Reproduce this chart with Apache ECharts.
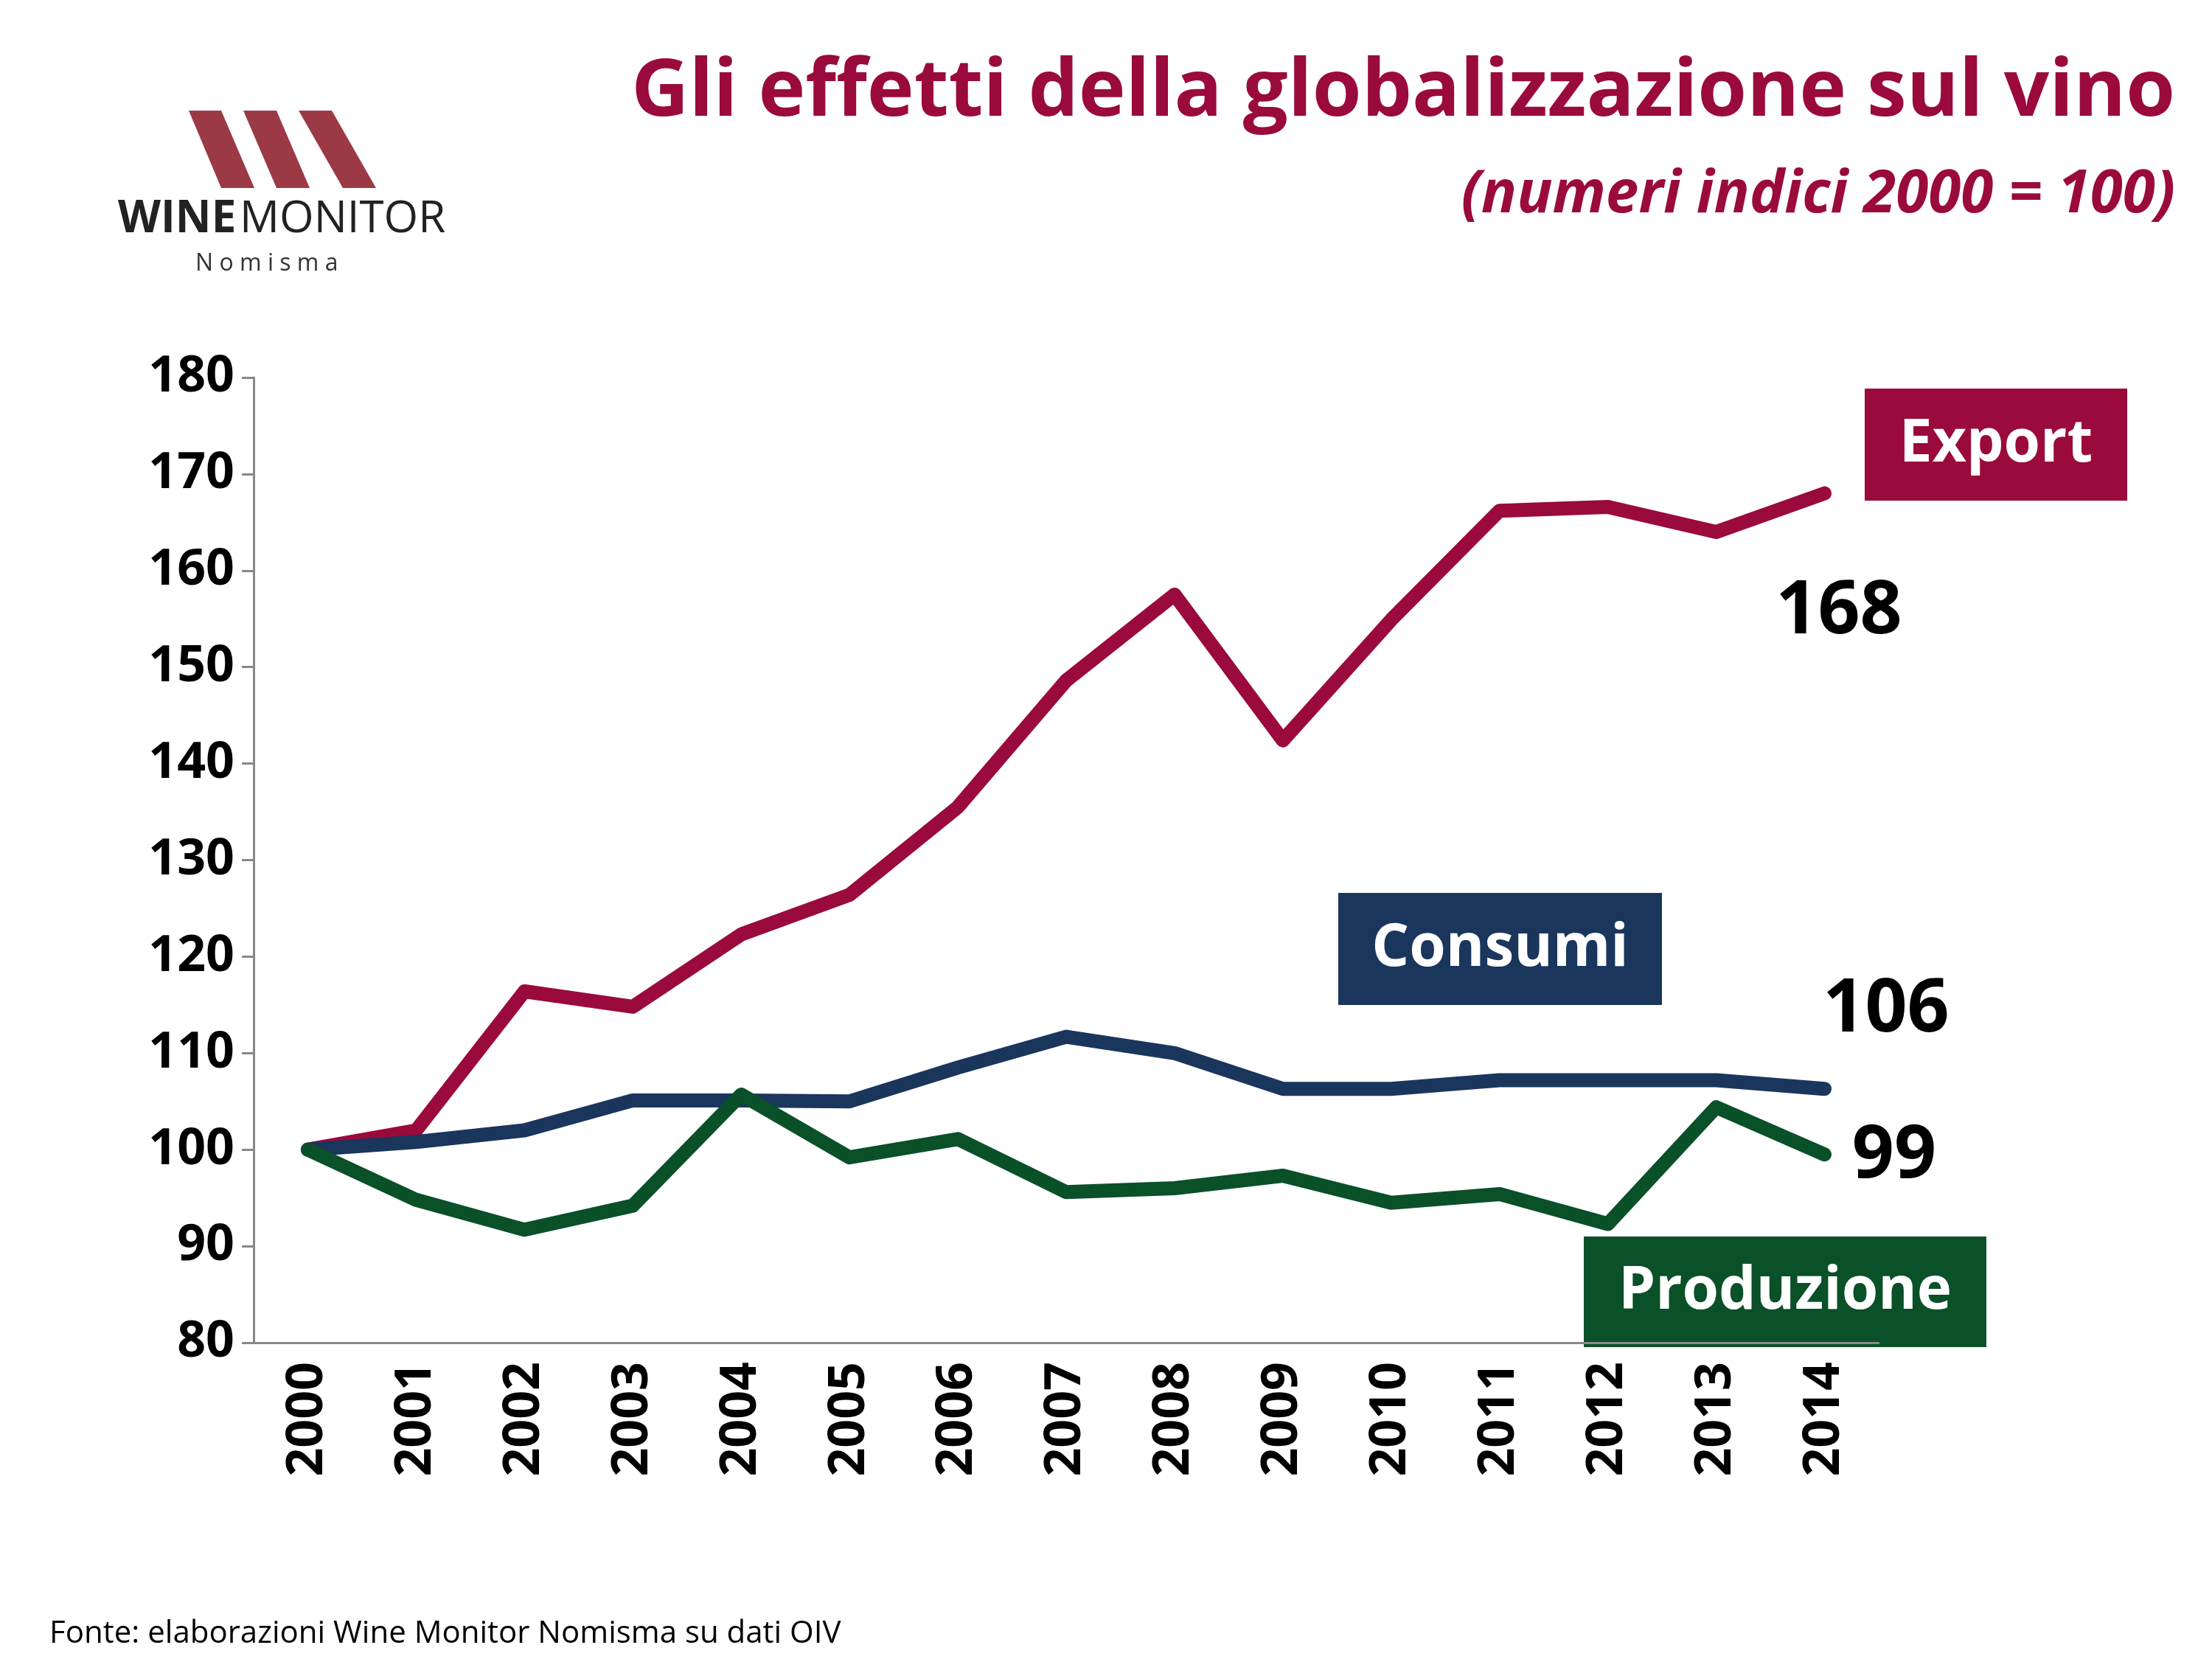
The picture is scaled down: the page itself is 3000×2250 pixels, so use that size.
<!DOCTYPE html>
<html>
<head>
<meta charset="utf-8">
<script src="https://cdn.jsdelivr.net/npm/echarts@6/dist/echarts.min.js"></script>
<style>html,body{margin:0;padding:0;background:#fff}</style>
</head>
<body>
<div id="chart" style="width:3000px;height:2250px"></div>
<script>
const years = ['2000','2001','2002','2003','2004','2005','2006','2007','2008','2009','2010','2011','2012','2013','2014'];
const exportVals = [100, 102, 116.4, 114.8, 122.3, 126.4, 135.5, 148.6, 157.5, 142.4, 154.9, 166.2, 166.6, 164, 168];
const consumiVals = [100, 100.8, 102, 105.1, 105.1, 105, 108.5, 111.7, 110, 106.3, 106.3, 107.2, 107.2, 107.2, 106.3];
const produzioneVals = [100, 94.8, 91.7, 94.2, 105.7, 99.2, 101.1, 95.6, 96, 97.3, 94.5, 95.4, 92.3, 104.4, 99.5];

const RED = '#9b0a3c', BLUE = '#1a365d', GREEN = '#0a5028';
const font = '"Open Sans", Lato, sans-serif';

const chart = echarts.init(document.getElementById('chart'));

function box(x, y, w, h, color, text) {
  return [
    { type: 'rect', shape: { x: x, y: y, width: w, height: h }, style: { fill: color } },
    { type: 'text', x: x + w / 2, y: y + h / 2, style: { text: text, fill: '#fff', font: 'bold 80px ' + font, align: 'center', verticalAlign: 'middle' } }
  ];
}
function val(x, y, text) {
  return { type: 'text', x: x, y: y, style: { text: text, fill: '#000', font: 'bold 100px ' + font, align: 'center', verticalAlign: 'middle' } };
}

chart.setOption({
  animation: false,
  grid: { left: 344, right: 452, top: 512, bottom: 429 },
  xAxis: {
    type: 'category', data: years, boundaryGap: true,
    axisLine: { lineStyle: { color: '#888', width: 3 } },
    axisTick: { lineStyle: { color: '#888', width: 3 }, length: 16 },
    axisLabel: { rotate: 90, color: '#000', fontSize: 68, fontWeight: 'bold', fontFamily: font, margin: 26 }
  },
  yAxis: {
    type: 'value', min: 80, max: 180, interval: 10,
    splitLine: { show: false },
    axisLine: { show: true, lineStyle: { color: '#888', width: 3 } },
    axisTick: { show: true, lineStyle: { color: '#888', width: 3 }, length: 16 },
    axisLabel: { color: '#000', fontSize: 68, fontWeight: 'bold', fontFamily: font, margin: 26 }
  },
  series: [
    { name: 'Export', type: 'line', data: exportVals, symbol: 'none', lineStyle: { color: RED, width: 19, cap: 'round', join: 'round' } },
    { name: 'Consumi', type: 'line', data: consumiVals, symbol: 'none', lineStyle: { color: BLUE, width: 19, cap: 'round', join: 'round' } },
    { name: 'Produzione', type: 'line', data: produzioneVals, symbol: 'none', lineStyle: { color: GREEN, width: 19, cap: 'round', join: 'round' } }
  ],
  graphic: [
    { type: 'text', right: 50, top: 72, style: { text: 'Gli effetti della globalizzazione sul vino', fill: RED, font: 'bold 108px ' + font } },
    { type: 'text', right: 50, top: 225, style: { text: '(numeri indici 2000 = 100)', fill: RED, font: 'italic bold 80px ' + font } },
    // logo
    { type: 'polygon', shape: { points: [[256,150],[300,150],[345,255],[300,255]] }, style: { fill: '#9b3a45' } },
    { type: 'polygon', shape: { points: [[330,150],[375,150],[420,255],[375,255]] }, style: { fill: '#9b3a45' } },
    { type: 'polygon', shape: { points: [[405,150],[450,150],[510,255],[465,255]] }, style: { fill: '#9b3a45' } },
    { type: 'text', x: 160, y: 268, style: { text: 'WINE', fill: '#222', font: 'bold 60px ' + font } },
    { type: 'text', x: 325, y: 268, style: { text: 'MONITOR', fill: '#222', font: '60px ' + font } },
    { type: 'text', x: 265, y: 342, style: { text: 'N o m i s m a', fill: '#333', font: '32px ' + font } },
    ...box(2529, 527, 356, 152, RED, 'Export'),
    ...box(1815, 1211, 439, 152, BLUE, 'Consumi'),
    ...box(2148, 1677, 546, 150, GREEN, 'Produzione'),
    val(2494, 831, '168'),
    val(2558, 1371, '106'),
    val(2569, 1569, '99'),
    { type: 'text', x: 67, y: 2195, style: { text: 'Fonte: elaborazioni Wine Monitor Nomisma su dati OIV', fill: '#000', font: '42px ' + font } }
  ]
});
</script>
</body>
</html>
